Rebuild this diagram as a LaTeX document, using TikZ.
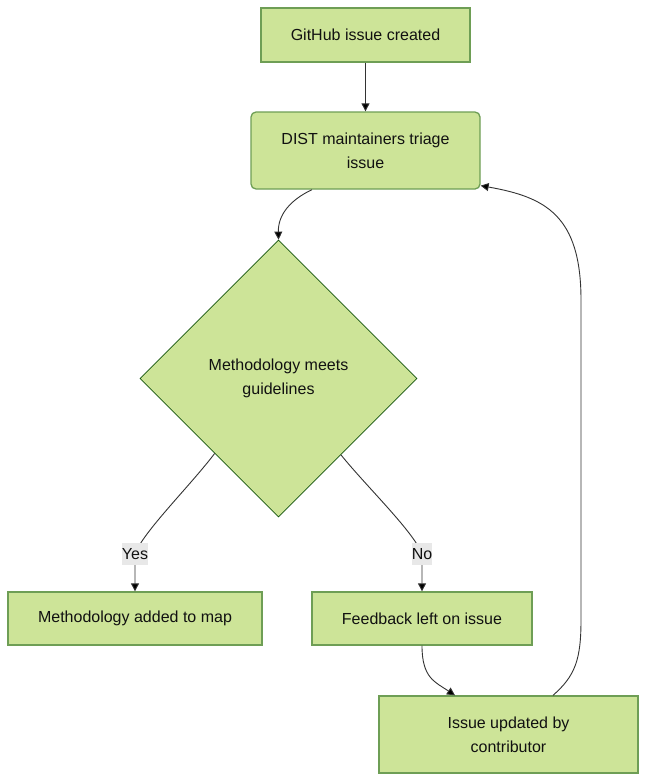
\documentclass[tikz,border=0pt]{standalone}
\usepackage{fontspec}
\setmainfont{Liberation Sans}
\usetikzlibrary{shapes.geometric,arrows.meta,calc}
\definecolor{nodefill}{HTML}{CDE498}
\definecolor{boxline}{HTML}{6E9E55}
\definecolor{diaml}{HTML}{13540C}
\definecolor{txt}{HTML}{111111}
\definecolor{edge}{HTML}{333333}
\definecolor{lblbg}{HTML}{E8E8E8}
\begin{document}
\begin{tikzpicture}[x=1pt,y=-1pt,
  every node/.style={font=\fontsize{16}{24}\selectfont, text=txt},
  box/.style={draw=boxline, line width=1.3pt, fill=nodefill, inner sep=0pt, align=center},
  decision/.style={diamond, aspect=1, draw=diaml, line width=0.8pt, fill=nodefill, inner sep=0pt, minimum width=277pt, minimum height=277pt, align=center},
  lbl/.style={fill=lblbg, inner xsep=0pt, inner ysep=0pt, minimum height=22pt},
  arr/.style={draw=edge, line width=0.9pt, -{Triangle[length=8pt,width=8pt,fill=black]}}]
\useasboundingbox (0,0) rectangle (647,782);
\node[box, minimum width=209pt, minimum height=54pt] (gh) at (365.5,35) {GitHub issue created};
\node[box, rounded corners=5pt, minimum width=229pt, minimum height=77pt] (dist) at (365.5,150.5) {DIST maintainers triage\\issue};
\node[decision] (d) at (278.5,378.5) {Methodology meets\\guidelines};
\node[box, minimum width=254pt, minimum height=53pt] (m) at (135,618.5) {Methodology added to map};
\node[box, minimum width=220pt, minimum height=53pt] (f) at (422,618.5) {Feedback left on issue};
\node[box, minimum width=259pt, minimum height=77pt] (iu) at (508.5,734.5) {Issue updated by\\contributor};
\coordinate (yesc) at (135,554);
\coordinate (noc) at (422,554);
\draw[arr] (gh.south) -- (dist.north);
\draw[arr] ([xshift=-53.5pt]dist.south) .. controls (290,200) and (278,215) .. (d.north);
\draw[arr] ($(d.west)!0.54!(d.south)$) .. controls (190,486) and (143,532) .. (yesc) .. controls (135,570) and (135,580) .. (m.north);
\draw[arr] ($(d.south)!0.45!(d.east)$) .. controls (366,486) and (414,532) .. (noc) .. controls (422,570) and (422,580) .. (f.north);
\draw[arr] (f.south) .. controls (422,678) and (435,682) .. ([xshift=-53.5pt]iu.north);
\draw[arr] ([xshift=44.5pt]iu.north) .. controls (575,676) and (581,660) .. (581,620) -- (581,300) .. controls (581,215) and (545,197) .. ([yshift=4pt]dist.south east);
\node[lbl] (yes) at (yesc) {Yes};
\node[lbl] (no) at (noc) {No};
\end{tikzpicture}
\end{document}
